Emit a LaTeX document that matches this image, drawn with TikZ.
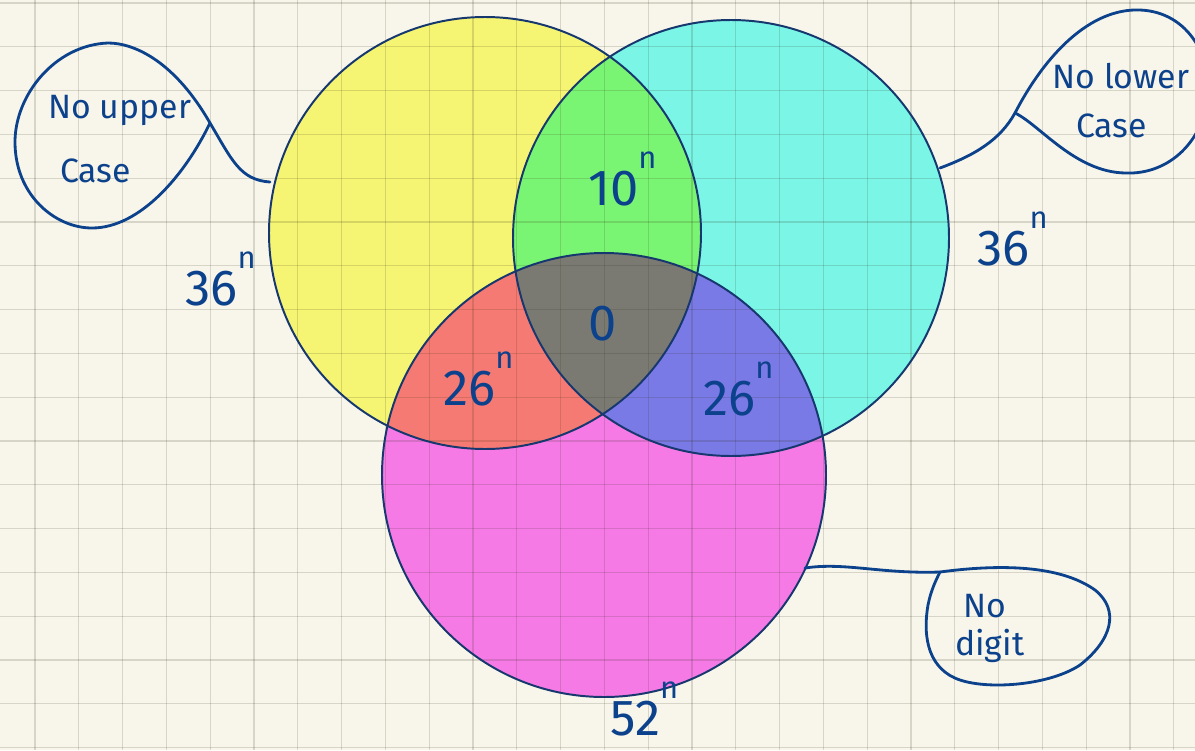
\documentclass[tikz,border=0pt]{standalone}
\usepackage{fontspec}
\setmainfont{Fira Sans}
\usetikzlibrary{calc}
\definecolor{paper}{HTML}{F8F6EA}
\definecolor{ink}{HTML}{0C418C}
\definecolor{rim}{HTML}{17386E}
\definecolor{yel}{HTML}{F5F573}
\definecolor{cya}{HTML}{7AF5E6}
\definecolor{mag}{HTML}{F57AE6}
\definecolor{grn}{HTML}{7AF573}
\definecolor{rd}{HTML}{F57A73}
\definecolor{blu}{HTML}{7A7AE6}
\definecolor{gry}{HTML}{7A7A73}
\definecolor{gridc}{RGB}{48,44,20}
\newcommand{\powN}[1]{#1\raisebox{0.72em}{\fontsize{22}{22}\selectfont n}}

\begin{document}
\begin{tikzpicture}[x=0.025cm, y=-0.025cm,
  ring/.style={draw=rim, line width=1.4pt},
  gridln/.style={draw=gridc, opacity=0.16, line width=0.9pt},
  hand/.style={text=ink, font=\fontsize{24}{28}\selectfont, inner sep=0pt, anchor=base west},
  num/.style={text=ink, font=\fontsize{36}{40}\selectfont, inner sep=0pt, anchor=base west},
  blob/.style={draw=ink, line width=2pt, line join=round, line cap=round}]
  \useasboundingbox[fill=paper] (0,0) rectangle (1195,750);
  % circle centres
  \coordinate (up) at (485,233);
  \coordinate (lo) at (731,238);
  \coordinate (dg) at (604,475);
  % fills
  \fill[yel] (up) circle (216);
  \fill[cya] (lo) circle (218);
  \fill[mag] (dg) circle (222);
  \begin{scope}
    \clip (up) circle (216);
    \fill[grn] (lo) circle (218);
    \fill[rd] (dg) circle (222);
  \end{scope}
  \begin{scope}
    \clip (lo) circle (218);
    \fill[blu] (dg) circle (222);
  \end{scope}
  \begin{scope}
    \clip (up) circle (216);
    \clip (lo) circle (218);
    \fill[gry] (dg) circle (222);
  \end{scope}
  % grid paper
  \foreach \gx in {0,...,26}
    \draw[gridln] ({35+43.8*\gx},0) -- ({35+43.8*\gx},750);
  \foreach \gy in {0,...,17}
    \draw[gridln] (0,{3+43.8*\gy}) -- (1195,{3+43.8*\gy});
  % outlines
  \draw[ring] (up) circle (216);
  \draw[ring] (lo) circle (218);
  \draw[ring] (dg) circle (222);
  % region counts
  \node[num] (nup) at (185,305) {\powN{36}};
  \node[num] (nlo) at (977,265) {\powN{36}};
  \node[num] (nul) at (588,205) {\powN{10}};
  \node[num] (nall) at (588,340) {0};
  \node[num] (nud) at (443,405) {\powN{26}};
  \node[num] (nld) at (703,415) {\powN{26}};
  \node[num] (ndg) at (610,735) {\powN{52}};
  % bubble: no upper case
  \coordinate (upk) at (210,123);
  \coordinate (upt) at (270,182);
  \draw[blob] (upk) .. controls (175,62) and (135,43) .. (108,43)
    .. controls (55,45) and (15,95) .. (15,142)
    .. controls (15,195) and (55,228) .. (92,228)
    .. controls (140,228) and (185,175) .. (upk);
  \draw[blob] (upk) .. controls (232,160) and (240,180) .. (upt);
  \node[hand] (upa) at (48,118) {No upper};
  \node[hand] (upb) at (60,182) {Case};
  % bubble: no lower case
  \coordinate (lok) at (1015,113);
  \coordinate (lot) at (940,168);
  \draw[blob] (lok) .. controls (1045,55) and (1090,8) .. (1140,10)
    .. controls (1190,12) and (1212,60) .. (1208,95)
    .. controls (1204,140) and (1170,175) .. (1125,173)
    .. controls (1075,172) and (1040,125) .. (lok);
  \draw[blob] (lot) .. controls (975,155) and (1000,140) .. (lok);
  \node[hand] (loa) at (1052,88) {No lower};
  \node[hand] (lob) at (1076,137) {Case};
  % bubble: no digit
  \coordinate (dgk) at (940,572);
  \coordinate (dgt) at (805,568);
  \draw[blob] (dgk) .. controls (1000,564) and (1060,565) .. (1095,590)
    .. controls (1120,610) and (1112,640) .. (1080,665)
    .. controls (1050,685) and (990,690) .. (960,680)
    .. controls (930,670) and (922,640) .. (928,605)
    .. controls (931,590) and (936,580) .. (dgk);
  \draw[blob] (dgt) .. controls (845,562) and (880,574) .. (dgk);
  \node[hand] (dga) at (963,617) {No};
  \node[hand] (dgb) at (955,655) {digit};
\end{tikzpicture}
\end{document}
